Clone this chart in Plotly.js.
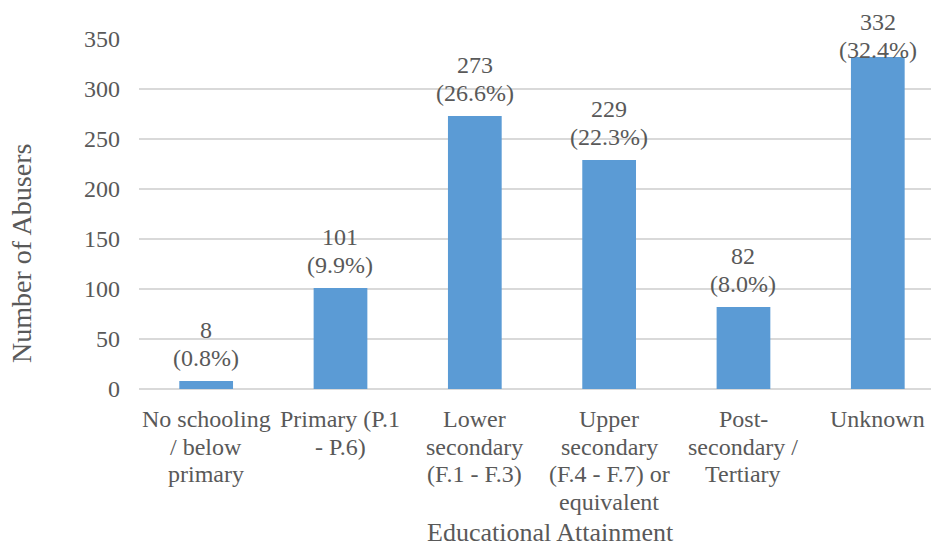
<!DOCTYPE html>
<html>
<head>
<meta charset="utf-8">
<script src="https://cdn.plot.ly/plotly-3.0.1.min.js"></script>
<style>
html,body{margin:0;padding:0;background:#fff;}
#chart{width:931px;height:545px;}
</style>
</head>
<body>
<div id="chart"></div>
<script>
const categories = [
  "No schooling / below primary",
  "Primary (P.1 - P.6)",
  "Lower secondary (F.1 - F.3)",
  "Upper secondary (F.4 - F.7) or equivalent",
  "Post-secondary / Tertiary",
  "Unknown"
];
const categoryLines = [
  ["No schooling", "/ below", "primary"],
  ["Primary (P.1", "- P.6)"],
  ["Lower", "secondary", "(F.1 - F.3)"],
  ["Upper", "secondary", "(F.4 - F.7) or", "equivalent"],
  ["Post-", "secondary /", "Tertiary"],
  ["Unknown"]
];
const abusers = [8, 101, 273, 229, 82, 332];
const percents = ["0.8%", "9.9%", "26.6%", "22.3%", "8.0%", "32.4%"];
const yTicks = [0, 50, 100, 150, 200, 250, 300, 350];

const font = "Liberation Serif";
const grey = "#595959";
const fs = 24;
const W = 931, H = 545;
const M = {l: 139, r: 0, t: 39, b: 156};
const yMax = 350;
const plotH = H - M.t - M.b;
const pxPerUnit = plotH / yMax;
const lineGap = 27.5;

const trace = {
  type: "bar",
  x: categories.map((c, i) => i),
  y: abusers,
  marker: {color: "#5B9BD5"},
  width: 0.4,
  hoverinfo: "none"
};

const annotations = [];
// category labels, several lines each with tight line spacing
categoryLines.forEach((lines, i) => {
  lines.forEach((ln, j) => {
    annotations.push({
      text: ln, xref: "x", yref: "paper", x: i, y: 0,
      xanchor: "center", yanchor: "middle", yshift: -(30 + j * lineGap),
      showarrow: false, font: {family: font, size: fs, color: grey}
    });
  });
});
// data labels: count above percentage, kept inside the chart area
abusers.forEach((v, i) => {
  const barTopPx = M.t + (yMax - v) * pxPerUnit;
  const countShift = Math.min(51, barTopPx - 22);
  annotations.push({
    text: String(v), xref: "x", yref: "y", x: i, y: v,
    xanchor: "center", yanchor: "middle", yshift: countShift,
    showarrow: false, font: {family: font, size: fs, color: grey}
  });
  annotations.push({
    text: "(" + percents[i] + ")", xref: "x", yref: "y", x: i, y: v,
    xanchor: "center", yanchor: "middle", yshift: countShift - lineGap,
    showarrow: false, font: {family: font, size: fs, color: grey}
  });
});
annotations.push({text: "Educational Attainment", xref: "paper", yref: "paper", x: 0.519, y: -0.411,
  xanchor: "center", yanchor: "middle", showarrow: false,
  font: {family: font, size: 26, color: grey}});
annotations.push({text: "Number of Abusers", xref: "paper", yref: "paper", x: -0.1477, y: 0.386,
  xanchor: "center", yanchor: "middle", textangle: -90, showarrow: false,
  font: {family: font, size: 28, color: grey}});

const layout = {
  width: W,
  height: H,
  margin: M,
  paper_bgcolor: "#fff",
  plot_bgcolor: "#fff",
  showlegend: false,
  font: {family: font, size: fs, color: grey},
  xaxis: {
    range: [-0.5, 5.396],
    showgrid: false,
    showline: false,
    zeroline: false,
    showticklabels: false,
    ticks: "",
    automargin: false
  },
  yaxis: {
    range: [0, yMax],
    tickvals: yTicks,
    ticktext: yTicks.map(String),
    showgrid: true,
    gridcolor: "#d9d9d9",
    gridwidth: 1.5,
    zeroline: true,
    zerolinecolor: "#d9d9d9",
    zerolinewidth: 1.5,
    showline: false,
    ticks: "",
    ticklabelstandoff: 18,
    tickfont: {family: font, size: fs, color: grey},
    automargin: false
  },
  annotations: annotations
};

Plotly.newPlot("chart", [trace], layout, {displayModeBar: false, staticPlot: true});
</script>
</body>
</html>
